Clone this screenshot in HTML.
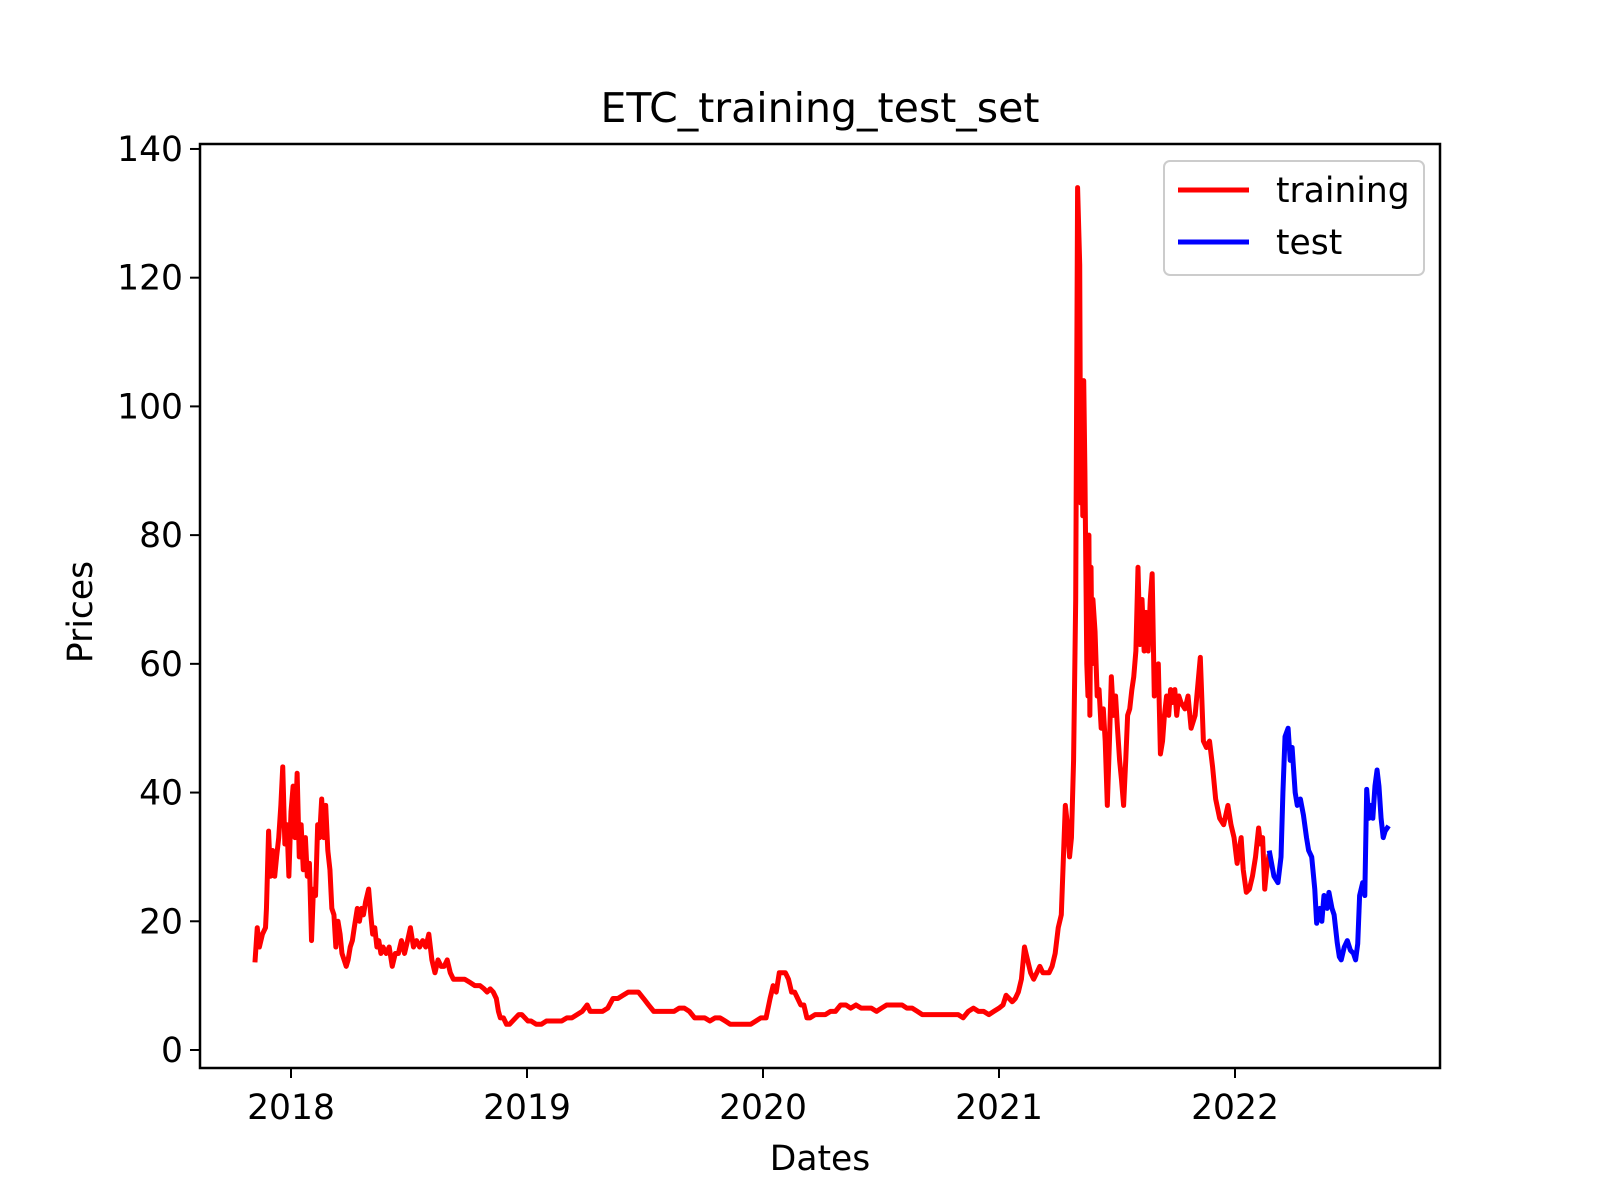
<!DOCTYPE html>
<html><head><meta charset="utf-8"><style>
html,body{margin:0;padding:0;background:#fff;}
svg{display:block;font-family:"DejaVu Sans","Liberation Sans",sans-serif;}
</style></head><body>
<svg id="chart" width="1600" height="1200" viewBox="0 0 1600 1200" xmlns="http://www.w3.org/2000/svg">
<rect x="0" y="0" width="1600" height="1200" fill="#fff"/>
<text x="820" y="122" font-size="41" text-anchor="middle">ETC_training_test_set</text>
<g id="plot"></g>
<text x="820" y="1170" font-size="34.5" text-anchor="middle">Dates</text>
<text x="0" y="0" font-size="34.5" text-anchor="middle" transform="translate(92,612) rotate(-90)">Prices</text>
<g>
<rect x="1164" y="161" width="260" height="114" rx="6" fill="#fff" fill-opacity="0.8" stroke="#cccccc" stroke-width="2"/>
<line x1="1178" y1="190" x2="1249" y2="190" stroke="#ff0000" stroke-width="5"/>
<text x="1276" y="202" font-size="34.5">training</text>
<line x1="1178" y1="242" x2="1249" y2="242" stroke="#0000ff" stroke-width="5"/>
<text x="1276" y="254" font-size="34.5">test</text>
</g>
</svg>
<script>
const trainYears = [2017.848,2017.857,2017.866,2017.879,2017.892,2017.896,2017.905,2017.913,2017.922,2017.931,2017.939,2017.948,2017.957,2017.965,2017.974,2017.983,2017.991,2018.000,2018.009,2018.017,2018.026,2018.035,2018.043,2018.052,2018.061,2018.069,2018.078,2018.087,2018.095,2018.104,2018.113,2018.121,2018.130,2018.139,2018.147,2018.156,2018.165,2018.173,2018.182,2018.190,2018.199,2018.208,2018.216,2018.225,2018.234,2018.242,2018.251,2018.260,2018.268,2018.281,2018.290,2018.299,2018.307,2018.316,2018.329,2018.338,2018.346,2018.355,2018.364,2018.372,2018.381,2018.390,2018.403,2018.416,2018.429,2018.442,2018.455,2018.468,2018.481,2018.494,2018.506,2018.519,2018.532,2018.545,2018.558,2018.571,2018.584,2018.597,2018.610,2018.623,2018.636,2018.649,2018.662,2018.675,2018.688,2018.701,2018.714,2018.736,2018.758,2018.779,2018.801,2018.818,2018.831,2018.844,2018.857,2018.870,2018.879,2018.887,2018.900,2018.913,2018.926,2018.939,2018.952,2018.965,2018.978,2018.991,2019.004,2019.017,2019.039,2019.061,2019.082,2019.104,2019.126,2019.147,2019.169,2019.190,2019.212,2019.234,2019.255,2019.268,2019.281,2019.299,2019.320,2019.342,2019.364,2019.385,2019.407,2019.429,2019.450,2019.472,2019.494,2019.515,2019.537,2019.558,2019.580,2019.602,2019.623,2019.645,2019.667,2019.688,2019.710,2019.732,2019.753,2019.775,2019.797,2019.818,2019.840,2019.861,2019.883,2019.905,2019.926,2019.948,2019.970,2019.991,2020.013,2020.030,2020.043,2020.056,2020.069,2020.082,2020.095,2020.108,2020.121,2020.134,2020.147,2020.160,2020.173,2020.186,2020.199,2020.221,2020.242,2020.264,2020.286,2020.307,2020.329,2020.351,2020.372,2020.394,2020.416,2020.437,2020.459,2020.481,2020.502,2020.524,2020.545,2020.567,2020.589,2020.610,2020.632,2020.654,2020.675,2020.697,2020.719,2020.740,2020.762,2020.784,2020.805,2020.827,2020.848,2020.870,2020.892,2020.913,2020.935,2020.957,2020.978,2021.000,2021.017,2021.030,2021.043,2021.056,2021.069,2021.082,2021.095,2021.108,2021.121,2021.134,2021.147,2021.160,2021.173,2021.186,2021.199,2021.212,2021.225,2021.238,2021.251,2021.264,2021.273,2021.281,2021.290,2021.299,2021.307,2021.316,2021.325,2021.333,2021.342,2021.346,2021.351,2021.355,2021.359,2021.364,2021.368,2021.372,2021.377,2021.381,2021.385,2021.390,2021.394,2021.398,2021.407,2021.416,2021.424,2021.433,2021.442,2021.450,2021.459,2021.468,2021.476,2021.485,2021.494,2021.502,2021.511,2021.519,2021.528,2021.537,2021.545,2021.554,2021.563,2021.571,2021.580,2021.589,2021.597,2021.606,2021.615,2021.623,2021.632,2021.641,2021.649,2021.658,2021.667,2021.675,2021.684,2021.693,2021.701,2021.710,2021.719,2021.727,2021.736,2021.745,2021.753,2021.762,2021.771,2021.788,2021.801,2021.814,2021.831,2021.853,2021.866,2021.879,2021.892,2021.905,2021.918,2021.935,2021.952,2021.970,2021.983,2021.996,2022.009,2022.017,2022.026,2022.035,2022.048,2022.061,2022.074,2022.087,2022.100,2022.108,2022.117,2022.126,2022.134,2022.143];
const trainValues = [14,19,16,18,19,22,34,27,31,27,30,33,38,44,32,35,27,37,41,33,43,30,35,28,33,27,29,17,25,24,35,33,39,33,38,31,28,22,21,16,20,18,15,14,13,14,16,17,19,22,20,22,21,23,25,21,18,19,16,17,15,16,15,16,13,15,15,17,15,17,19,16,17,16,17,16,18,14,12,14,13,13,14,12,11,11,11,11,10.5,10,10,9.5,9,9.5,9,8,6,5,5,4,4,4.5,5,5.5,5.5,5,4.5,4.5,4,4,4.5,4.5,4.5,4.5,5,5,5.5,6,7,6,6,6,6,6.5,8,8,8.5,9,9,9,8,7,6,6,6,6,6,6.5,6.5,6,5,5,5,4.5,5,5,4.5,4,4,4,4,4,4.5,5,5,8,10,9,12,12,12,11,9,9,8,7,7,5,5,5.5,5.5,5.5,6,6,7,7,6.5,7,6.5,6.5,6.5,6,6.5,7,7,7,7,6.5,6.5,6,5.5,5.5,5.5,5.5,5.5,5.5,5.5,5.5,5,6,6.5,6,6,5.5,6,6.5,7,8.5,8,7.5,8,9,11,16,14,12,11,12,13,12,12,12,13,15,19,21,30,38,35,30,33,45,70,134,122,85,100,83,104,90,75,60,55,80,52,75,60,70,65,55,56,50,53,48,38,48,58,52,55,50,45,42,38,45,52,53,56,58,62,75,63,70,62,68,62,70,74,55,58,60,46,48,52,55,52,56,54,56,52,55,54,53,55,50,52,61,48,47,48,44,39,36,35,38,35,33,29,31,33,28,24.5,25,27,30,34.5,32,33,25,28,30];
const testYears = [2022.147,2022.165,2022.182,2022.195,2022.203,2022.212,2022.225,2022.234,2022.242,2022.255,2022.264,2022.277,2022.290,2022.303,2022.312,2022.325,2022.338,2022.346,2022.359,2022.368,2022.377,2022.390,2022.398,2022.411,2022.420,2022.433,2022.442,2022.450,2022.463,2022.476,2022.489,2022.502,2022.511,2022.520,2022.528,2022.541,2022.550,2022.558,2022.567,2022.576,2022.584,2022.593,2022.602,2022.610,2022.619,2022.628,2022.636,2022.645];
const testValues = [30.6,27,26,30,40,48.7,50,45,47,40,38,39,36.5,33,31,30,25,19.7,22,20,24,22,24.5,22,21,16.7,14.5,14,16,17,15.5,15,14,16.5,24,26,24,40.5,36,38,36,41,43.5,41,36,33,34,34.5];
const xTickYears = [2018,2019,2020,2021,2022];
const xTickLabels = ["2018","2019","2020","2021","2022"];
const yTickValues = [0,20,40,60,80,100,120,140];
const yTickLabels = ["0","20","40","60","80","100","120","140"];

const AX = {left:200,right:1440,top:144,bottom:1068};
function xScale(yr){ return 291 + (yr-2018)*236; }
function yScale(v){ return 1050 - v*6.436; }
const NS = "http://www.w3.org/2000/svg";
const plot = document.getElementById('plot');
function mk(tag, attrs){ const e=document.createElementNS(NS,tag); for(const k in attrs) e.setAttribute(k,attrs[k]); return e; }

const clip = mk('clipPath',{id:'clipax'});
clip.appendChild(mk('rect',{x:AX.left,y:AX.top,width:AX.right-AX.left,height:AX.bottom-AX.top}));
plot.appendChild(clip);

function series(years, vals, color, name){
  const d = years.map((y,i)=>(i?'L':'M')+xScale(y).toFixed(2)+' '+yScale(vals[i]).toFixed(2)).join(' ');
  const p = mk('path',{d:d,fill:'none',stroke:color,'stroke-width':5,'stroke-linejoin':'round','stroke-linecap':'square','clip-path':'url(#clipax)'});
  
  
  plot.appendChild(p);
}
series(trainYears, trainValues, '#ff0000', 'training-line');
series(testYears, testValues, '#0000ff', 'test-line');

const frame = mk('rect',{x:AX.left,y:AX.top,width:AX.right-AX.left,height:AX.bottom-AX.top,fill:'none',stroke:'#000','stroke-width':2.5});


plot.appendChild(frame);

xTickYears.forEach((yr,i)=>{
  const x = xScale(yr);
  const t = mk('line',{x1:x,y1:AX.bottom,x2:x,y2:AX.bottom+10,stroke:'#000','stroke-width':2});
  
  
  plot.appendChild(t);
  const l = mk('text',{x:x,y:AX.bottom+51,'font-size':34.5,'text-anchor':'middle'});
  l.textContent = xTickLabels[i];
  
  
  plot.appendChild(l);
});
yTickValues.forEach((v,i)=>{
  const y = yScale(v);
  const t = mk('line',{x1:AX.left-10,y1:y,x2:AX.left,y2:y,stroke:'#000','stroke-width':2});
  
  
  plot.appendChild(t);
  const l = mk('text',{x:AX.left-17,y:y+12,'font-size':34.5,'text-anchor':'end'});
  l.textContent = yTickLabels[i];
  
  
  plot.appendChild(l);
});
</script>
</body></html>
